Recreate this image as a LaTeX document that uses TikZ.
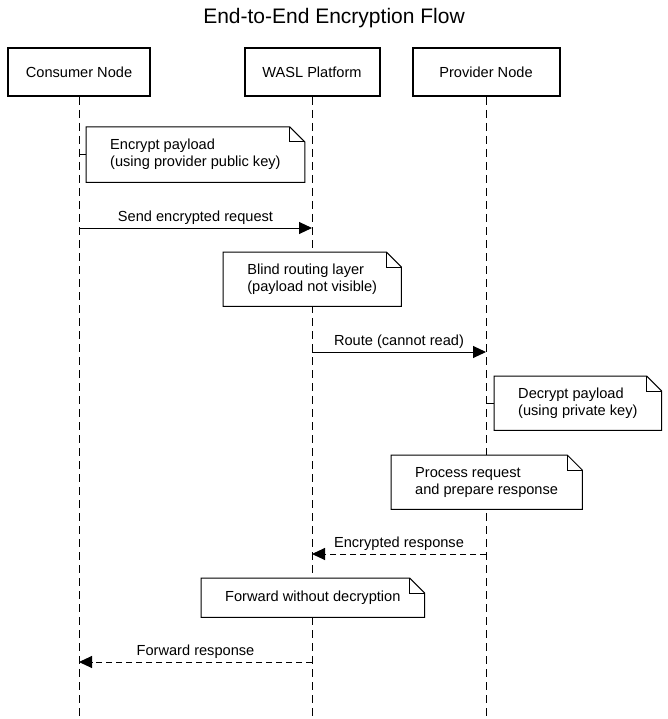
\documentclass[tikz,border=0pt]{standalone}
\usepackage{fontspec}
\setmainfont{Liberation Sans}
\usetikzlibrary{arrows.meta,calc}
\begin{document}
\begin{tikzpicture}[x=1pt,y=-1pt,
  every node/.style={font=\fontsize{14.6pt}{17pt}\selectfont},
  participant/.style={draw,line width=2pt,minimum height=48pt,inner sep=0pt,fill=white},
  lifeline/.style={line width=1pt,dash pattern=on 8pt off 5pt},
  notebox/.style={fill=white,align=left,inner xsep=24pt,inner ysep=10.5pt},
  noteline/.style={line width=1pt},
  msg/.style={line width=1pt,-{Triangle[length=13pt,width=12pt]}},
  retmsg/.style={msg,dash pattern=on 6pt off 4pt},
  lbl/.style={above=2pt,inner sep=1pt}]
\useasboundingbox (0,0) rectangle (668,719);
\node[font=\fontsize{21pt}{24pt}\selectfont] (title) at (334,18) {End-to-End Encryption Flow};
% participants
\node[participant,minimum width=142pt] (cons) at (79,72) {Consumer Node};
\node[participant,minimum width=135pt] (wasl) at (312,72) {WASL Platform};
\node[participant,minimum width=147pt] (prov) at (486,72) {Provider Node};
% lifeline ends
\coordinate (consE) at (79,719);
\coordinate (waslE) at (312,719);
\coordinate (provE) at (486,719);
\draw[lifeline] (cons.south) -- (consE);
\draw[lifeline] (wasl.south) -- (waslE);
\draw[lifeline] (prov.south) -- (provE);
% notes
\node[notebox,anchor=north west,minimum width=218pt,minimum height=55pt] (n1) at (86,127) {Encrypt payload\\(using provider public key)};
\node[notebox,anchor=north west,minimum width=178pt,minimum height=54pt] (n2) at (223,252) {Blind routing layer\\(payload not visible)};
\node[notebox,anchor=north west,minimum width=166pt,minimum height=54pt] (n3) at (494,376) {Decrypt payload\\(using private key)};
\node[notebox,anchor=north west,minimum width=190pt,minimum height=54pt] (n4) at (391,455) {Process request\\and prepare response};
\node[notebox,anchor=north west,minimum width=222pt,minimum height=39pt] (n5) at (201,578) {Forward without decryption};
\foreach \n in {n1,n2,n3,n4,n5}{
  \draw[noteline] (\n.north west) -- ($(\n.north east)+(-15,0)$) -- ($(\n.north east)+(0,15)$) -- (\n.south east) -- (\n.south west) -- cycle;
  \draw[noteline] ($(\n.north east)+(-15,0)$) -- ($(\n.north east)+(-15,15)$) -- ($(\n.north east)+(0,15)$);
}
\coordinate (c1) at (79,155);
\draw[noteline] (c1) -- (c1 -| n1.west);
\coordinate (c3) at (486,403);
\draw[noteline] (c3) -- (c3 -| n3.west);
% messages
\coordinate (m1a) at (79,228); \coordinate (m1b) at (312,228);
\draw[msg] (m1a) -- node[lbl] (l1) {Send encrypted request} (m1b);
\coordinate (m2a) at (312,352); \coordinate (m2b) at (486,352);
\draw[msg] (m2a) -- node[lbl] (l2) {Route (cannot read)} (m2b);
\coordinate (m3a) at (486,554); \coordinate (m3b) at (312,554);
\draw[retmsg] (m3a) -- node[lbl] (l3) {Encrypted response} (m3b);
\coordinate (m4a) at (312,662); \coordinate (m4b) at (79,662);
\draw[retmsg] (m4a) -- node[lbl] (l4) {Forward response} (m4b);
\end{tikzpicture}
\end{document}
